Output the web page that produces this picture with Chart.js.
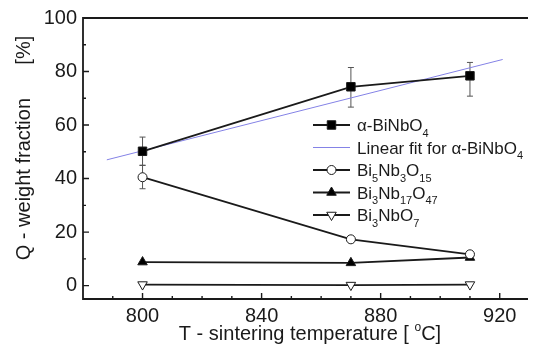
<!DOCTYPE html>
<html>
<head>
<meta charset="utf-8">
<script src="https://cdn.jsdelivr.net/npm/chart.js@4.4.0/dist/chart.umd.min.js"></script>
<style>
  body { margin: 0; background: #fff; }
  #wrap { width: 535px; height: 354px; }
</style>
</head>
<body>
<div id="wrap"><canvas id="chart" width="535" height="354"></canvas></div>
<script>
const temps = [800, 870, 910];
const alphaFrac = [50.2, 74.3, 78.4];
const alphaErrUp = [5.3, 7.2, 5.0];
const alphaErrDown = [5.3, 7.6, 7.6];
const fitTemps = [788, 921];
const fitFrac = [47.0, 84.5];
const bi5Frac = [40.5, 17.3, 11.7];
const bi5ErrUp = [4.5, null, null];
const bi5ErrDown = [4.3, null, null];
const bi3nb17Frac = [8.8, 8.5, 10.5];
const bi3nbo7Frac = [0.4, 0.2, 0.4];
const legendLabels = ['α-BiNbO_4', 'Linear fit for α-BiNbO_4', 'Bi_5Nb_3O_15', 'Bi_3Nb_17O_47', 'Bi_3NbO_7'];
const xTitle = 'T - sintering temperature [ ^oC]';
const yTitle = 'Q - weight fraction      [%]';

const FONT = '"Liberation Sans", Arial, sans-serif';
const INK = '#1a1a1a';

function toPoints(xs, ys) {
  return xs.map((x, i) => ({ x: x, y: ys[i] }));
}

function richParts(str) {
  return str.split(/([_^][0-9a-z]+)/).filter(s => s).map(s => {
    if (s[0] === '_') return { text: s.slice(1), mode: 'sub' };
    if (s[0] === '^') return { text: s.slice(1), mode: 'sup' };
    return { text: s, mode: 'normal' };
  });
}

// draws text with sub/superscripts, y is the baseline
function drawRich(ctx, str, x, y, size, align) {
  const parts = richParts(str);
  const small = Math.round(size * 0.62);
  let total = 0;
  parts.forEach(p => {
    ctx.font = (p.mode === 'normal' ? size : small) + 'px ' + FONT;
    p.w = ctx.measureText(p.text).width;
    total += p.w;
  });
  let cx = align === 'center' ? x - total / 2 : x;
  ctx.textAlign = 'left';
  ctx.textBaseline = 'alphabetic';
  parts.forEach(p => {
    ctx.font = (p.mode === 'normal' ? size : small) + 'px ' + FONT;
    let dy = 0;
    if (p.mode === 'sub') dy = size * 0.33;
    if (p.mode === 'sup') dy = -size * 0.45;
    ctx.fillText(p.text, cx, y + dy);
    cx += p.w;
  });
}

function drawErrorBars(chart, xs, ys, up, down) {
  const ctx = chart.ctx;
  const sx = chart.scales.x, sy = chart.scales.y;
  ctx.save();
  ctx.strokeStyle = '#555';
  ctx.lineWidth = 1;
  xs.forEach((t, i) => {
    if (up[i] == null) return;
    const px = sx.getPixelForValue(t);
    const top = sy.getPixelForValue(ys[i] + up[i]);
    const bot = sy.getPixelForValue(ys[i] - down[i]);
    ctx.beginPath();
    ctx.moveTo(px, top); ctx.lineTo(px, bot);
    ctx.moveTo(px - 3, top); ctx.lineTo(px + 3, top);
    ctx.moveTo(px - 3, bot); ctx.lineTo(px + 3, bot);
    ctx.stroke();
  });
  ctx.restore();
}

const frame = {
  id: 'frame',
  beforeDatasetsDraw(chart) {
    drawErrorBars(chart, temps, alphaFrac, alphaErrUp, alphaErrDown);
    drawErrorBars(chart, temps, bi5Frac, bi5ErrUp, bi5ErrDown);
  },
  afterDatasetsDraw(chart) {
    const ctx = chart.ctx;
    const a = chart.chartArea;
    const sx = chart.scales.x, sy = chart.scales.y;
    ctx.save();

    // axes box (right side is cut off in the original)
    ctx.strokeStyle = INK;
    ctx.lineWidth = 1.8;
    ctx.beginPath();
    ctx.moveTo(a.right, a.top);
    ctx.lineTo(a.left, a.top);
    ctx.lineTo(a.left, a.bottom);
    ctx.lineTo(a.right, a.bottom);
    ctx.stroke();

    // inward ticks, major + minor
    ctx.lineWidth = 1.4;
    ctx.beginPath();
    for (let v = Math.ceil(sx.min / 10) * 10; v <= sx.max; v += 10) {
      const px = sx.getPixelForValue(v);
      if (px <= a.left + 2) continue;
      const len = v % 40 === 0 ? 6 : 3;
      ctx.moveTo(px, a.bottom); ctx.lineTo(px, a.bottom - len);
    }
    for (let v = Math.ceil(sy.min / 10) * 10; v <= sy.max; v += 10) {
      const py = sy.getPixelForValue(v);
      if (py <= a.top + 2) continue;
      const len = v % 20 === 0 ? 6 : 3;
      ctx.moveTo(a.left, py); ctx.lineTo(a.left + len, py);
    }
    ctx.stroke();

    // legend
    const rowX = 313, rowY = 125, rowStep = 22.5;
    chart.data.datasets.forEach((ds, i) => {
      const y = rowY + i * rowStep;
      ctx.strokeStyle = ds.borderColor;
      ctx.lineWidth = ds.borderWidth;
      ctx.beginPath();
      ctx.moveTo(rowX, y); ctx.lineTo(rowX + 37, y);
      ctx.stroke();
      if (ds.pointRadius > 0) {
        ctx.fillStyle = ds.pointBackgroundColor;
        ctx.strokeStyle = ds.pointBorderColor;
        ctx.lineWidth = ds.pointBorderWidth;
        Chart.helpers.drawPoint(ctx, {
          pointStyle: ds.pointStyle, radius: ds.pointRadius,
          rotation: ds.pointRotation || 0, borderWidth: ds.pointBorderWidth
        }, rowX + 18.5, y);
      }
      ctx.fillStyle = INK;
      drawRich(ctx, legendLabels[i], 357, y + 6, 17, 'left');
    });

    // axis titles
    ctx.fillStyle = INK;
    drawRich(ctx, xTitle, 310, 340, 20, 'center');
    ctx.translate(30, 148);
    ctx.rotate(-Math.PI / 2);
    drawRich(ctx, yTitle, 0, 0, 20, 'center');
    ctx.restore();
  }
};

const lineBase = { showLine: true, borderColor: INK, borderWidth: 1.8, pointBorderColor: INK, pointBorderWidth: 1 };

new Chart(document.getElementById('chart'), {
  type: 'scatter',
  data: {
    datasets: [
      Object.assign({}, lineBase, {
        label: 'α-BiNbO4', data: toPoints(temps, alphaFrac),
        pointStyle: 'rect', pointRadius: 6, pointBackgroundColor: '#000'
      }),
      {
        label: 'Linear fit', data: toPoints(fitTemps, fitFrac), showLine: true,
        borderColor: '#8482e6', borderWidth: 1, pointRadius: 0
      },
      Object.assign({}, lineBase, {
        label: 'Bi5Nb3O15', data: toPoints(temps, bi5Frac),
        pointStyle: 'circle', pointRadius: 4.5, pointBackgroundColor: '#fff'
      }),
      Object.assign({}, lineBase, {
        label: 'Bi3Nb17O47', data: toPoints(temps, bi3nb17Frac), order: 0,
        pointStyle: 'triangle', pointRadius: 5.5, pointBackgroundColor: '#000'
      }),
      Object.assign({}, lineBase, {
        label: 'Bi3NbO7', data: toPoints(temps, bi3nbo7Frac),
        pointStyle: 'triangle', pointRotation: 180, pointRadius: 5.5, pointBackgroundColor: '#fff'
      })
    ]
  },
  options: {
    responsive: false,
    animation: false,
    layout: { padding: { top: 18, right: 0, left: 0, bottom: 0 } },
    plugins: { legend: { display: false }, tooltip: { enabled: false } },
    scales: {
      x: {
        type: 'linear', min: 780, max: 929.5,
        afterFit: s => { s.height = 55; },
        grid: { display: false, drawTicks: false },
        border: { display: false },
        ticks: { stepSize: 40, includeBounds: false, padding: 5, color: INK, font: { family: FONT, size: 20 } }
      },
      y: {
        min: -5, max: 100,
        afterFit: s => { s.width = 83; },
        grid: { display: false, drawTicks: false },
        border: { display: false },
        ticks: { stepSize: 20, includeBounds: false, padding: 6, color: INK, font: { family: FONT, size: 20 } }
      }
    }
  },
  plugins: [frame]
});
</script>
</body>
</html>
